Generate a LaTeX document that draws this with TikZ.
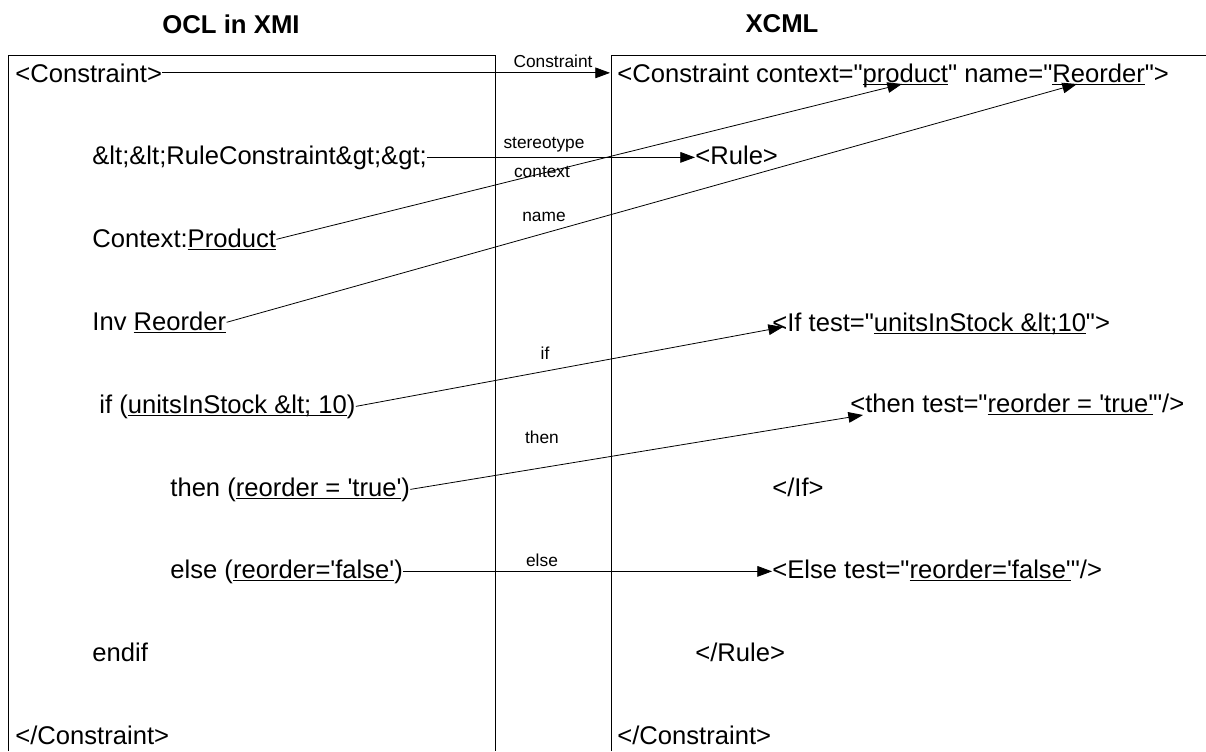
\documentclass[tikz,border=0pt]{standalone}
\usepackage{fontspec}
\newfontfamily\arialfont{Liberation Sans}
\usetikzlibrary{arrows.meta, calc}

\newcommand{\undl}[1]{\setbox0\hbox{#1}\rlap{\rule[-2.4pt]{\wd0}{1.1pt}}\box0}

\begin{document}
\begin{tikzpicture}[x=0.75pt, y=-0.75pt, line width=0.6pt,
		txt/.style={anchor=base west, inner sep=0pt, font=\arialfont\fontsize{19.2}{22}\selectfont},
		lbl/.style={inner sep=0pt, font=\arialfont\fontsize{13}{15}\selectfont},
		ttl/.style={inner sep=0pt, font=\arialfont\bfseries\fontsize{19.3}{22}\selectfont}]
		\useasboundingbox (0,0) rectangle (1206,751);
		
		\node [ttl] (ocl) at (231,24) {OCL in XMI};
		\node [ttl] (xcml) at (782,24) {XCML};
		
		% the two columns
		\draw (8,751) -- (8,55) -- (495,55) -- (495,751);
		\draw (611,751) -- (611,55) -- (1206,55);
		
		% OCL side
		\node [txt] (o0) at (15,82) {<Constraint>};
		\node [txt] (o1) at (92,164) {\&lt;\&lt;RuleConstraint\&gt;\&gt;};
		\node [txt] (o2) at (92,247) {Context:\undl{Product}};
		\node [txt] (o3) at (92,330) {Inv \undl{Reorder}};
		\node [txt] (o4) at (99,413) {if (\undl{unitsInStock \&lt; 10})};
		\node [txt] (o5) at (170,496) {then (\undl{reorder = 'true'})};
		\node [txt] (o6) at (170,578) {else (\undl{reorder='false'})};
		\node [txt] (o7) at (92,661) {endif};
		\node [txt] (o8) at (15,744) {</Constraint>};
		
		% XCML side
		\node [txt] (x0) at (617,82) {<Constraint context="\undl{product}" name="\undl{Reorder}">};
		\node [txt] (x1) at (695,164) {<Rule>};
		\node [txt] (x3) at (772,331) {<If test="\undl{unitsInStock \&lt;10}">};
		\node [txt] (x4) at (850,412) {<then test="\undl{reorder = 'true'}"/>};
		\node [txt] (x5) at (772,496) {</If>};
		\node [txt] (x6) at (772,578) {<Else test="\undl{reorder='false'}"/>};
		\node [txt] (x7) at (695,661) {</Rule>};
		\node [txt] (x8) at (617,744) {</Constraint>};
		
		\coordinate (tcon) at ($(o0.east -| x0.west)+(-7,0)$);
		\coordinate (tprod) at ($(x0.base west)+(285,2)$);
		\coordinate (treo) at ($(x0.base west)+(460,2)$);
		\coordinate (tif) at ($(x3.base west)+(11,-4)$);
		\coordinate (tthen) at ($(x4.base west)+(13,3)$);
		
		\begin{scope}[-{Triangle[length=11pt, width=8pt]}]
			\draw (o0.east) -- (tcon);
			\draw (o1.east) -- (o1.east -| x1.west);
			\draw (o2.east) -- (tprod);
			\draw (o3.east) -- (treo);
			\draw (o4.east) -- (tif);
			\draw (o5.east) -- (tthen);
			\draw (o6.east) -- (o6.east -| x6.west);
		\end{scope}
		
		\node [lbl] (lcon) at (553,61) {Constraint};
		\node [lbl] (lster) at (544,145) {stereotype};
		\node [lbl] (lctx) at (542,172) {context};
		\node [lbl] (lname) at (544,217) {name};
		\node [lbl] (lif) at (545,353) {if};
		\node [lbl] (lthen) at (542,437) {then};
		\node [lbl] (lelse) at (542,560) {else};
	\end{tikzpicture}
\end{document}
